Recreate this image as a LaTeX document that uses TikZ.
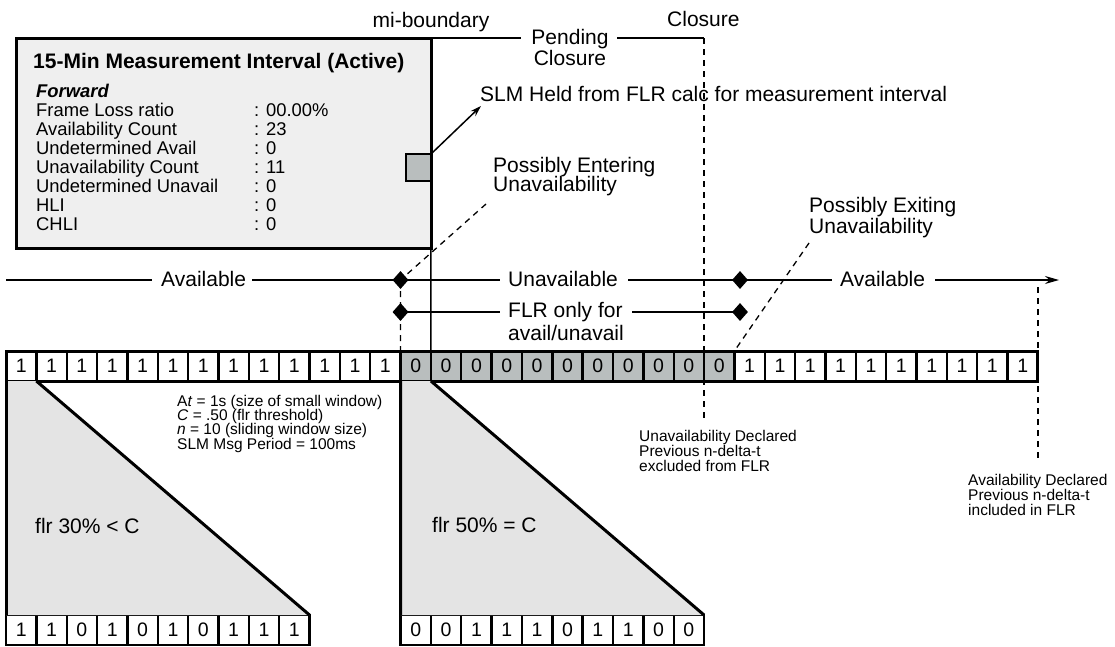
\documentclass[tikz,border=0pt]{standalone}
\usepackage{fontspec}
\setmainfont[Ligatures=NoCommon]{Liberation Sans}
\usetikzlibrary{shapes.geometric,arrows.meta}
\definecolor{boxgray}{HTML}{EFEFEF}
\definecolor{cellgray}{HTML}{B9BEBE}
\definecolor{wingray}{HTML}{E4E4E4}
\begin{document}
\begin{tikzpicture}[x=1pt,y=-1pt,
  lab/.style={inner sep=0pt, anchor=base west, font=\fontsize{21}{21}\selectfont},
  labc/.style={lab, anchor=base},
  boxtxt/.style={inner sep=0pt, anchor=base west, font=\fontsize{18.4}{19}\selectfont},
  smalltxt/.style={inner sep=0pt, anchor=base west, font=\fontsize{15.5}{15}\selectfont},
  dia/.style={diamond, fill=black, draw=none, minimum width=16pt, minimum height=18pt, inner sep=0pt},
  tl/.style={line width=1.4pt},
  dsh/.style={line width=1.3pt, dash pattern=on 6pt off 5pt},
  cell/.style={draw=black, line width=2.4pt, minimum width=30.35pt, minimum height=30pt, inner sep=0pt, outer sep=0pt, font=\fontsize{19.5}{19.5}\selectfont},
]
\useasboundingbox (0,0) rectangle (1115,646);
\fill[white] (0,0) rectangle (1115,646);

% ---------- dashed guides behind everything ----------
\coordinate (clos) at (704,38);
\coordinate (closbot) at (704,418);
\coordinate (avdtop) at (1038,287);
\coordinate (avdbot) at (1038,460);
\draw[dsh] (clos) -- (closbot);
\draw[dsh] (avdtop) -- (avdbot);

% ---------- main bar ----------
\foreach \v [count=\i from 0] in {1,1,1,1,1,1,1,1,1,1,1,1,1,0,0,0,0,0,0,0,0,0,0,0,1,1,1,1,1,1,1,1,1,1} {
  \ifnum\v=0 \def\cf{cellgray}\else\def\cf{white}\fi
  \node[cell, fill=\cf] (b\i) at ({6+(\i+0.5)*30.35}, 366) {\v};
}
\draw[line width=3pt] (b0.north west) rectangle (b33.south east);

% ---------- bottom windows ----------
\foreach \v [count=\i from 0] in {1,1,0,1,0,1,0,1,1,1} {
  \node[cell, fill=white] (l\i) at ({6+(\i+0.5)*30.35}, 630) {\v};
}
\foreach \v [count=\i from 0] in {0,0,1,1,1,0,1,1,0,0} {
  \node[cell, fill=white] (r\i) at ({400.55+(\i+0.5)*30.35}, 630) {\v};
}
\fill[wingray] (b0.south west) -- (b0.south east) -- (l9.north east) -- (l0.north west) -- cycle;
\fill[wingray] (b13.south west) -- (b13.south east) -- (r9.north east) -- (r0.north west) -- cycle;
\draw[line width=3pt] (b0.south west) -- (l0.north west);
\draw[line width=3pt] (b0.south east) -- (l9.north east);
\draw[line width=3pt] (b13.south west) -- (r0.north west);
\draw[line width=3pt] (b13.south east) -- (r9.north east);
\node[lab] (w1) at (35,533) {flr 30\% < C};
\node[lab] (w2) at (432,532) {flr 50\% = C};

\node[smalltxt] (p1) at (177,406) {A\textit{t} = 1s (size of small window)};
\node[smalltxt] (p2) at (177,420.3) {\textit{C} = .50 (flr threshold)};
\node[smalltxt] (p3) at (177,434.6) {\textit{n} = 10 (sliding window size)};
\node[smalltxt] (p4) at (177,449) {SLM Msg Period = 100ms};

\node[smalltxt] (ud1) at (639,441) {Unavailability Declared};
\node[smalltxt] (ud2) at (639,456) {Previous n-delta-t};
\node[smalltxt] (ud3) at (639,471) {excluded from FLR};
\node[smalltxt] (ad1) at (968,485) {Availability Declared};
\node[smalltxt] (ad2) at (968,500) {Previous n-delta-t};
\node[smalltxt] (ad3) at (968,515) {included in FLR};

% ---------- mi-boundary and top line ----------
\coordinate (mitop) at (431,38);
\draw[tl] (mitop) -- (b13.north east);
\node[labc] (mib) at (431,27) {mi-boundary};
\node[lab] (clt) at (667,26) {Closure};
\node[labc] (pend1) at (570,44) {Pending};
\node[labc] (pend2) at (570,65) {Closure};
\coordinate (pl) at (521,38);
\coordinate (pr) at (617,38);
\draw[tl] (mitop) -- (pl);
\draw[tl] (pr) -- (clos);

% ---------- measurement box ----------
\node[draw, line width=3pt, fill=boxgray, minimum width=415pt, minimum height=210pt,
      inner sep=0pt, outer sep=0pt, anchor=north west] (box) at (16,38) {};
\node[draw, line width=2.5pt, fill=cellgray, minimum width=25pt, minimum height=27pt,
      inner sep=0pt, outer sep=0pt, anchor=north east] (sq) at (431,154) {};
\node[inner sep=0pt, anchor=base west, font=\fontsize{21}{21}\selectfont\bfseries] (title) at (33,68) {15-Min Measurement Interval (Active)};
\node[boxtxt, font=\fontsize{18.4}{19}\selectfont\bfseries\itshape] (fwd) at (36,97) {Forward};
\foreach \t/\v [count=\i from 0] in {Frame Loss ratio/{: 00.00\%}, Availability Count/{: 23}, Undetermined Avail/{: 0}, Unavailability Count/{: 11}, Undetermined Unavail/{: 0}, HLI/{: 0}, CHLI/{: 0}} {
  \node[boxtxt] (k\i) at (36,{116+19*\i}) {\t};
  \node[boxtxt] (v\i) at (254,{116+19*\i}) {\v};
}

% ---------- SLM arrow ----------
\coordinate (slmtip) at (481,106);
\draw[line width=1.5pt, -{Stealth[length=11pt,width=7pt]}] (sq.north east) -- (slmtip);
\node[lab] (slm) at (480,101) {SLM Held from FLR calc for measurement interval};

% ---------- timeline ----------
\coordinate (t0) at (6,280);
\coordinate (t1) at (152,280);
\coordinate (t2) at (252,280);
\coordinate (t3) at (500,280);
\coordinate (t4) at (628,280);
\coordinate (t5) at (832,280);
\coordinate (t6) at (935,280);
\coordinate (tend) at (1059,280);
\node[lab] (avl1) at (161,286) {Available};
\node[lab] (unav) at (508,286) {Unavailable};
\node[lab] (avl2) at (840,286) {Available};
\node[lab] (flr1) at (508,317) {FLR only for};
\node[lab] (flr2) at (508,340) {avail/unavail};
\coordinate (f1) at (500,312);
\coordinate (f2) at (632,312);

\coordinate (pe) at (486,204);
\coordinate (px) at (809,243);
\node[lab] (pe1) at (493,172) {Possibly Entering};
\node[lab] (pe2) at (493,191) {Unavailability};
\node[lab] (px1) at (809,212) {Possibly Exiting};
\node[lab] (px2) at (809,233) {Unavailability};

\coordinate (d1c) at (400.5,280);
\coordinate (d2c) at (740,280);
\coordinate (d3c) at (400.5,312);
\coordinate (d4c) at (740,312);
\draw[dsh] (d1c) -- (b13.north west);
\draw[dsh] (pe) -- (d1c);
\draw[dsh] (px) -- (b24.north west);
\draw[tl] (t0) -- (t1);
\draw[tl] (t2) -- (d1c) -- (t3);
\draw[tl] (t4) -- (d2c) -- (t5);
\draw[tl, -{Stealth[length=14pt,width=8pt]}] (t6) -- (tend);
\draw[tl] (d3c) -- (f1);
\draw[tl] (f2) -- (d4c);
\node[dia] (d1) at (d1c) {};
\node[dia] (d2) at (d2c) {};
\node[dia] (d3) at (d3c) {};
\node[dia] (d4) at (d4c) {};
\end{tikzpicture}
\end{document}
